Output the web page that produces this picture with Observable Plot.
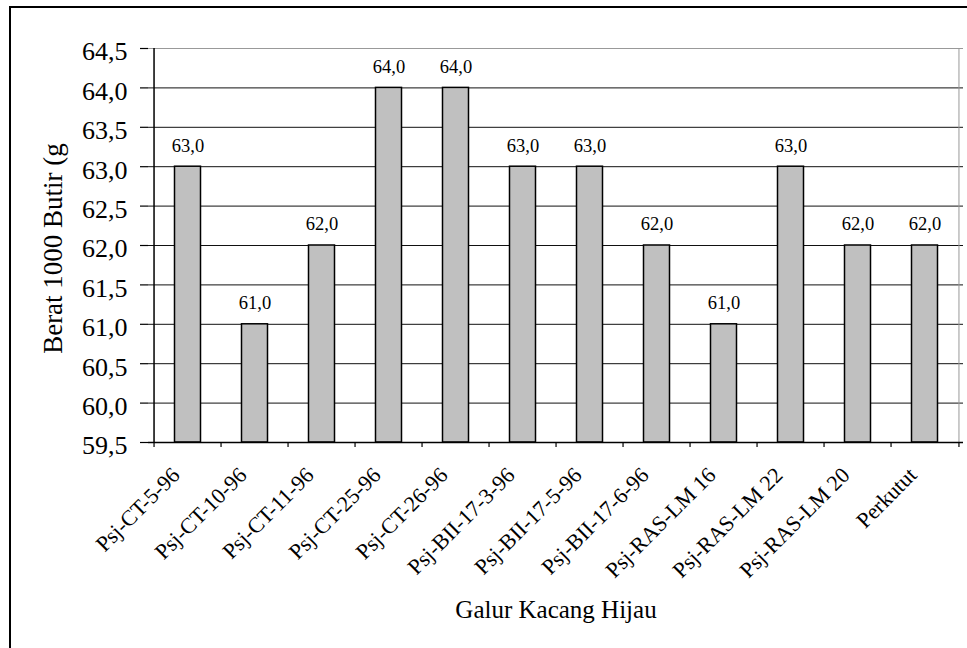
<!DOCTYPE html>
<html><head><meta charset="utf-8">
<script src="https://cdn.jsdelivr.net/npm/d3@7"></script>
<script src="https://cdn.jsdelivr.net/npm/@observablehq/plot@0.6"></script>
<style>
html,body{margin:0;padding:0;background:#fff;overflow:hidden;width:967px;height:648px;}
#wrap{position:relative;width:967px;height:648px;overflow:hidden;}
#wrap svg{position:absolute;left:0;top:0;}
#wrap svg, #wrap svg text{font-family:"Liberation Serif","Times New Roman",serif !important;}
#border{position:absolute;left:9px;top:6px;width:1200px;height:1200px;border-left:2.5px solid #000;border-top:2.5px solid #000;pointer-events:none;}
</style></head><body><div id="wrap"><div id="border"></div></div>
<script>
const categories = ["Psj-CT-5-96","Psj-CT-10-96","Psj-CT-11-96","Psj-CT-25-96","Psj-CT-26-96","Psj-BII-17-3-96","Psj-BII-17-5-96","Psj-BII-17-6-96","Psj-RAS-LM 16","Psj-RAS-LM 22","Psj-RAS-LM 20","Perkutut"];
const values = [63.0, 61.0, 62.0, 64.0, 64.0, 63.0, 63.0, 62.0, 61.0, 63.0, 62.0, 62.0];
const yTicks = [59.5, 60.0, 60.5, 61.0, 61.5, 62.0, 62.5, 63.0, 63.5, 64.0, 64.5];
const yTitle = "Berat 1000 Butir (g";
const xTitle = "Galur Kacang Hijau";

const data = categories.map((name, i) => ({name, value: values[i]}));
const fmt = d => d.toFixed(1).replace(".", ",");

const W = 967, H = 648, mL = 148, mR = 4, mT = 48, mB = 206;
const step = (W - mL - mR) / categories.length;

const chart = Plot.plot({
  width: W, height: H,
  marginLeft: mL, marginRight: mR, marginTop: mT, marginBottom: mB,
  style: {fontFamily: "Liberation Serif, serif", color: "#000", background: "transparent", overflow: "visible"},
  x: {type: "band", domain: categories, padding: 0, label: null},
  y: {domain: [yTicks[0], yTicks[yTicks.length - 1]], label: null},
  marks: [
    Plot.ruleY(yTicks.slice(1, -1), {stroke: "#111", strokeWidth: 1}),
    Plot.ruleY([yTicks[yTicks.length - 1]], {stroke: "#999", strokeWidth: 1}),
    Plot.ruleX([categories[categories.length - 1]], {dx: step / 2, stroke: "#999", strokeWidth: 1}),
    Plot.barY(data, {x: "name", y1: yTicks[0], y2: "value", fill: "#c0c0c0", stroke: "#000", strokeWidth: 1.5, insetLeft: 20.5, insetRight: 20.5}),
    Plot.ruleY([yTicks[0]], {stroke: "#000", strokeWidth: 1.5}),
    Plot.ruleX([categories[0]], {dx: -step / 2, stroke: "#000", strokeWidth: 1.5}),
    Plot.axisY({ticks: yTicks, tickSize: 8, tickFormat: () => "", label: null, strokeWidth: 1.2}),
    Plot.axisY({ticks: yTicks, tickSize: 0, tickPadding: 21, dy: 3.5, fontSize: 26, tickFormat: fmt, label: null}),
    Plot.axisX({ticks: categories, tickSize: 5, tickFormat: () => "", dx: -step / 2, label: null, strokeWidth: 1.2}),
    Plot.axisX({ticks: [categories[categories.length - 1]], tickSize: 5, tickFormat: () => "", dx: step / 2, label: null, strokeWidth: 1.2}),
    Plot.text(categories, {x: d => d, frameAnchor: "bottom", rotate: -45, textAnchor: "end", lineAnchor: "middle", dx: -12, dy: 29, fontSize: 22}),
    Plot.text(data, {x: "name", y: "value", text: d => fmt(d.value), dy: -21, fontSize: 18.5}),
    Plot.text([yTitle], {frameAnchor: "left", rotate: -90, textAnchor: "middle", lineAnchor: "middle", dx: -95, dy: 3, fontSize: 27}),
    Plot.text([xTitle], {frameAnchor: "bottom", textAnchor: "middle", lineAnchor: "middle", dy: 167.5, fontSize: 25})
  ]
});
document.getElementById("wrap").prepend(chart);
</script>
</body></html>
